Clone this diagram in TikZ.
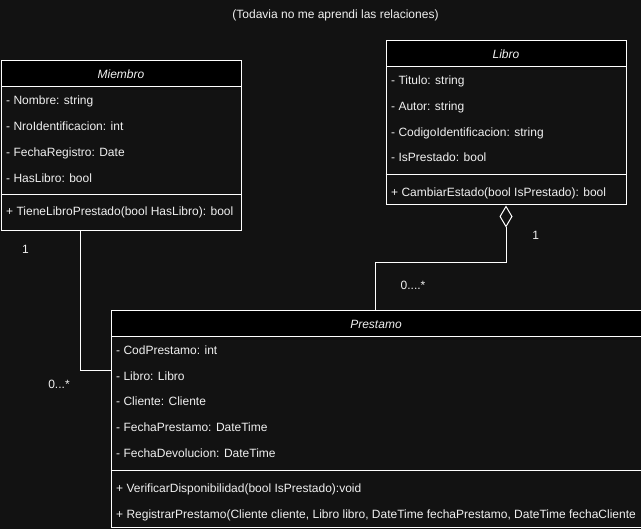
\documentclass[tikz,border=0pt]{standalone}
\usepackage{fontspec}
\setmainfont{Liberation Sans}
\usetikzlibrary{arrows.meta}
\definecolor{bg}{RGB}{18,18,18}
\definecolor{fg}{RGB}{240,240,240}
\begin{document}
\begin{tikzpicture}[x=1pt,y=-1pt,
  classbox/.style={draw=white, line width=1pt, fill=bg, inner sep=0pt, anchor=north west},
  headbox/.style={draw=white, line width=1pt, fill=black, inner sep=0pt, anchor=north west},
  txt/.style={text=fg, font=\fontsize{12}{14}\selectfont, inner sep=0pt, anchor=base west},
  classname/.style={text=fg, font=\fontsize{12}{14}\selectfont\itshape, inner sep=0pt},
  conn/.style={draw=white, line width=1pt},
  mult/.style={text=fg, font=\fontsize{12}{14}\selectfont, inner sep=0pt}]

\fill[bg] (0,0) rectangle (641,529);
\useasboundingbox (0,0) rectangle (641,529);

\node[mult] (note) at (335.5,15) {(Todavia no me aprendi las relaciones)};

% Miembro
\node[classbox, minimum width=240pt, minimum height=170pt] (miembro) at (0.5,60.5) {};
\node[headbox, minimum width=240pt, minimum height=26pt] (miembroH) at (0.5,60.5) {};
\node[classname] (miembroT) at (miembroH.center) {Miembro};
\draw[conn] (0.5,194.5) -- (240.5,194.5);
\node[txt] (m1) at (6,104.5) {- Nombre: string};
\node[txt] (m2) at (6,130.5) {- NroIdentificacion: int};
\node[txt] (m3) at (6,156.5) {- FechaRegistro: Date};
\node[txt] (m4) at (6,182.5) {- HasLibro: bool};
\node[txt] (m5) at (6,216) {+ TieneLibroPrestado(bool HasLibro): bool};

% Libro
\node[classbox, minimum width=240pt, minimum height=164pt] (libro) at (385.5,40.5) {};
\node[headbox, minimum width=240pt, minimum height=26pt] (libroH) at (385.5,40.5) {};
\node[classname] (libroT) at (libroH.center) {Libro};
\draw[conn] (385.5,174.5) -- (625.5,174.5);
\node[txt] (l1) at (391,84.5) {- Titulo: string};
\node[txt] (l2) at (391,110.5) {- Autor: string};
\node[txt] (l3) at (391,136.5) {- CodigoIdentificacion: string};
\node[txt] (l4) at (391,162) {- IsPrestado: bool};
\node[txt] (l5) at (391,196.5) {+ CambiarEstado(bool IsPrestado): bool};

% Prestamo
\node[classbox, minimum width=530pt, minimum height=216.5pt] (prestamo) at (110.5,310.5) {};
\node[headbox, minimum width=530pt, minimum height=26pt] (prestamoH) at (110.5,310.5) {};
\node[classname] (prestamoT) at (prestamoH.center) {Prestamo};
\draw[conn] (110.5,470.5) -- (640.5,470.5);
\node[txt] (p1) at (116,354.5) {- CodPrestamo: int};
\node[txt] (p2) at (116,380.5) {- Libro: Libro};
\node[txt] (p3) at (116,406) {- Cliente: Cliente};
\node[txt] (p4) at (116,432) {- FechaPrestamo: DateTime};
\node[txt] (p5) at (116,458) {- FechaDevolucion: DateTime};
\node[txt] (p6) at (116,492.5) {+ VerificarDisponibilidad(bool IsPrestado):void};
\node[txt] (p7) at (116,518.5) {+ RegistrarPrestamo(Cliente cliente, Libro libro, DateTime fechaPrestamo, DateTime fechaCliente};

% connectors
\coordinate (pIn) at ([yshift=-60pt]prestamo.north west);
\coordinate (pTop) at ([xshift=265pt]prestamo.north west);
\draw[conn] ([xshift=80pt]miembro.south west) |- (pIn);
\draw[conn, {Diamond[open, length=22pt, width=13pt]}-] (libro.south) -- ([yshift=-57.5pt]libro.south) -| (pTop);

% multiplicities
\node[mult] (mu1) at (25.5,249) {1};
\node[mult] (mu2) at (59,384) {0...*};
\node[mult] (mu3) at (535.7,235) {1};
\node[mult] (mu4) at (413,285) {0....*};
\end{tikzpicture}
\end{document}
